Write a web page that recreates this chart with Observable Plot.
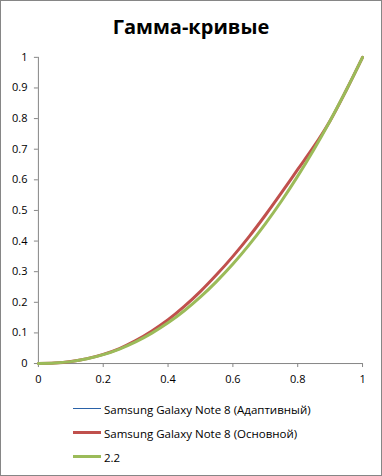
<!DOCTYPE html>
<html>
<head>
<meta charset="utf-8">
<script src="https://cdn.jsdelivr.net/npm/d3@7"></script>
<script src="https://cdn.jsdelivr.net/npm/@observablehq/plot@0.6"></script>
<style>
  html, body { margin: 0; padding: 0; background: #fff; }
  #chart { position: relative; width: 382px; height: 476px; box-sizing: border-box; border: 1px solid #868686; overflow: hidden; background: #fff; }
  #title { position: absolute; left: 0; top: 12px; width: 380px; text-align: center; font: bold 20px "Open Sans", sans-serif; color: #000; }
  #plot { position: absolute; left: -1px; top: -1px; }
  #legend { position: absolute; left: 72px; top: 396px; font: 11.5px "Open Sans", sans-serif; color: #000; }
  .row { display: flex; align-items: center; height: 24px; }
  .sw { width: 28px; margin-right: 3px; }
</style>
</head>
<body>
<div id="chart">
  <div id="plot"></div>
  <div id="title">Гамма-кривые</div>
  <div id="legend"></div>
</div>
<script>
const xs = [0, 0.05, 0.1, 0.15, 0.2, 0.25, 0.3, 0.35, 0.4, 0.45, 0.5, 0.55, 0.6, 0.65, 0.7, 0.75, 0.8, 0.85, 0.9, 0.95, 1];
const adaptive = [0, 0.0014, 0.0065, 0.016, 0.030, 0.049, 0.0747, 0.1063, 0.1429, 0.1864, 0.2356, 0.2905, 0.350, 0.4145, 0.4843, 0.558, 0.634, 0.709, 0.7932, 0.8934, 1];
const basic    = [0, 0.0014, 0.0065, 0.016, 0.030, 0.049, 0.0747, 0.1063, 0.1429, 0.1864, 0.2356, 0.2905, 0.350, 0.4145, 0.4843, 0.558, 0.634, 0.709, 0.7932, 0.8934, 1];
const gamma22  = [0, 0.0014, 0.0063, 0.0154, 0.0290, 0.0474, 0.0707, 0.0993, 0.1329, 0.1724, 0.2176, 0.2685, 0.3250, 0.3875, 0.4563, 0.5309, 0.6121, 0.6993, 0.7932, 0.8934, 1];
const seriesNames = ["Samsung Galaxy Note 8 (Адаптивный)", "Samsung Galaxy Note 8 (Основной)", "2.2"];
const seriesColors = ["#2a62a8", "#C0504D", "#9BBB59"];
const seriesWidths = [1, 3, 3];
const xTicks = [0, 0.2, 0.4, 0.6, 0.8, 1];
const yTicks = [0, 0.1, 0.2, 0.3, 0.4, 0.5, 0.6, 0.7, 0.8, 0.9, 1];

const seriesValues = [adaptive, basic, gamma22];
const data = seriesValues.flatMap((vals, i) => vals.map((v, j) => ({x: xs[j], y: v, s: i})));
const fmt = d => String(+d.toFixed(1));
const axisColor = "#868686";

const plot = Plot.plot({
  width: 382,
  height: 392,
  marginLeft: 38,
  marginRight: 19,
  marginTop: 57,
  marginBottom: 28,
  style: {fontFamily: "'Open Sans', sans-serif", fontSize: "11px", color: "#000", background: "transparent"},
  x: {domain: [0, 1]},
  y: {domain: [0, 1]},
  marks: [
    Plot.ruleX([0], {stroke: axisColor, strokeWidth: 1}),
    Plot.ruleY([0], {stroke: axisColor, strokeWidth: 1}),
    Plot.axisX({ticks: xTicks, tickFormat: fmt, tickSize: 4, tickPadding: 8, stroke: axisColor, fill: "#000", label: null}),
    Plot.axisY({ticks: yTicks, tickFormat: fmt, tickSize: 4, tickPadding: 7, stroke: axisColor, fill: "#000", label: null}),
    ...seriesValues.map((vals, i) => Plot.line(data.filter(d => d.s === i), {
      x: "x", y: "y", stroke: seriesColors[i], strokeWidth: seriesWidths[i], curve: "catmull-rom"
    }))
  ]
});
document.getElementById("plot").appendChild(plot);

const legend = document.getElementById("legend");
seriesNames.forEach((name, i) => {
  const row = document.createElement("div");
  row.className = "row";
  const sw = document.createElementNS("http://www.w3.org/2000/svg", "svg");
  sw.setAttribute("class", "sw");
  sw.setAttribute("width", 28);
  sw.setAttribute("height", 6);
  const ln = document.createElementNS("http://www.w3.org/2000/svg", "line");
  const yy = seriesWidths[i] % 2 === 1 ? 2.5 : 3;
  ln.setAttribute("x1", 0); ln.setAttribute("x2", 28);
  ln.setAttribute("y1", yy); ln.setAttribute("y2", yy);
  ln.setAttribute("stroke", seriesColors[i]);
  ln.setAttribute("stroke-width", seriesWidths[i]);
  sw.appendChild(ln);
  row.appendChild(sw);
  const t = document.createElement("span");
  t.textContent = name;
  row.appendChild(t);
  legend.appendChild(row);
});
</script>
</body>
</html>
